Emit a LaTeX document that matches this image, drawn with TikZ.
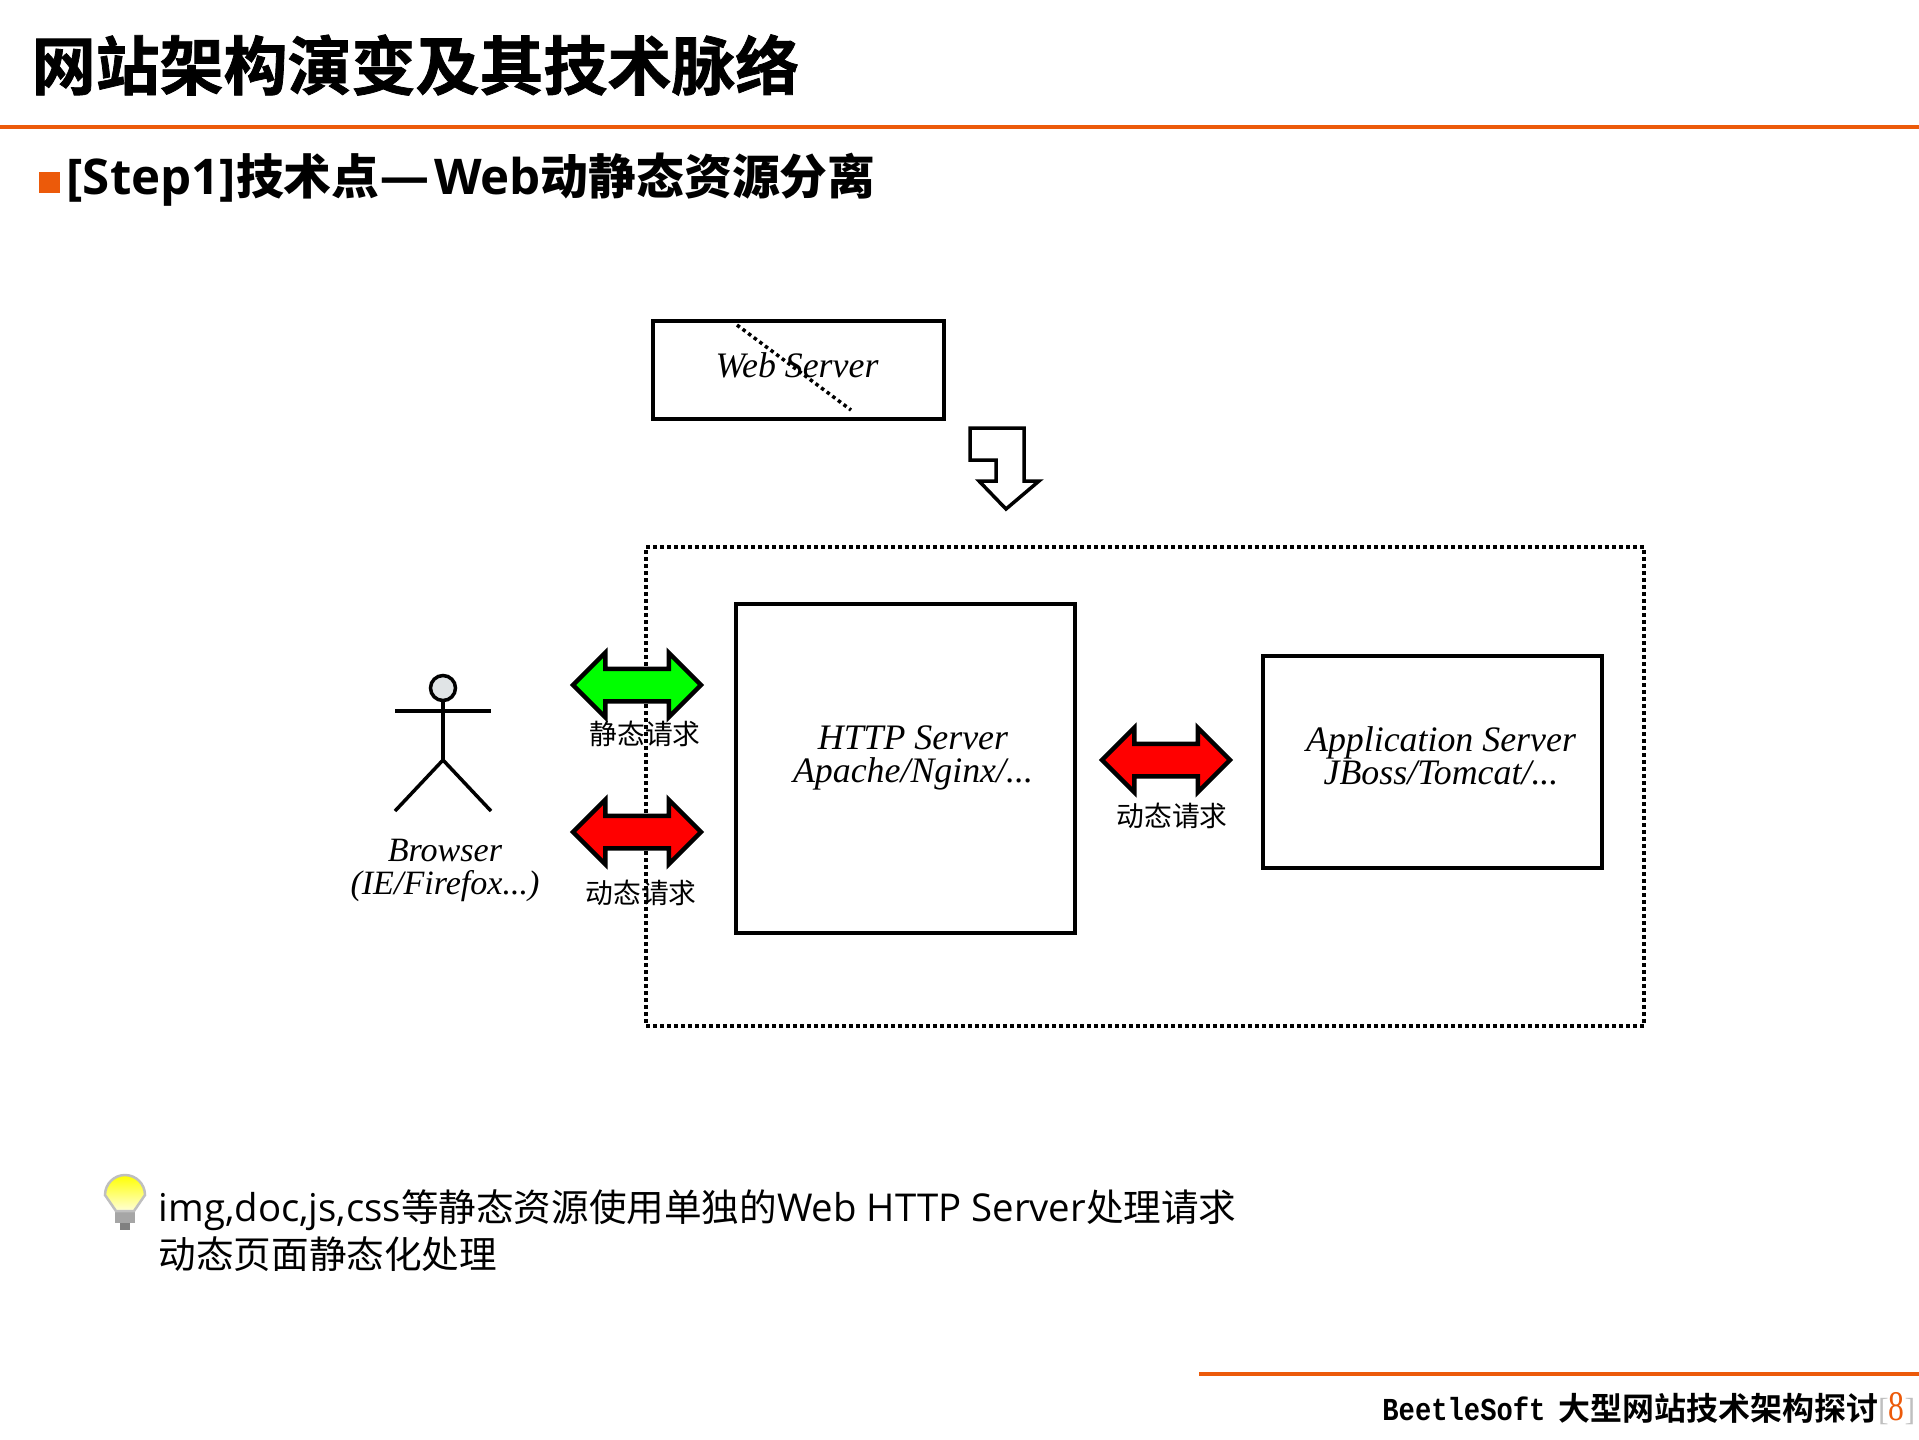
\documentclass[tikz,border=0pt]{standalone}
\usepackage{fontspec}
\usepackage{xcolor}
\usetikzlibrary{arrows.meta, positioning, calc, shapes.arrows}
\setmainfont{Liberation Serif}
\newfontfamily\cjk{Noto Sans CJK SC}
\newfontfamily\cjkb{Noto Sans CJK SC Bold}
\newfontfamily\cjkt{Noto Sans CJK SC Bold}[FakeBold=1.2]
\newfontfamily\latn{Open Sans}[Scale=1.02]
\newfontfamily\latb{Open Sans}[Scale=1.03]
\newfontfamily\monob{Liberation Mono Bold}[FakeStretch=0.85]
\definecolor{slideorange}{RGB}{236,90,10}

\begin{document}
\begin{tikzpicture}[
  x=1cm, y=-1cm,
  plain text/.style = {inner sep=0pt, font=\fontsize{10.7}{13}\selectfont},
  server box/.style = {draw, line width=0.04cm, inner sep=0pt},
  server text/.style = {inner sep=0pt, align=center, font=\fontsize{10.2}{9.4}\selectfont\itshape},
  request text/.style = {inner sep=0pt, font=\fontsize{7.9}{9}\selectfont\cjk},
  both arrow/.style = {draw, line width=0.045cm, double arrow, shape border rotate=0,
    double arrow head extend=0.16cm, double arrow tip angle=90, minimum height=1.28cm,
    inner xsep=0pt, inner ysep=0.14cm},
  dot line/.style = {dash pattern=on 0.035cm off 0.035cm, line width=0.035cm},
  stick/.style = {line width=0.035cm}
]
  \useasboundingbox (0,0) rectangle (19.19,14.39);

  % header
  \node[plain text, anchor=west, font=\fontsize{18.2}{20}\selectfont\cjkt] (title) at (0.31,0.65) {网站架构演变及其技术脉络};
  \draw[slideorange, line width=0.04cm] (0,1.27) -- (19.19,1.27);
  \fill[slideorange] (0.39,1.72) rectangle (0.60,1.93);
  \node[plain text, anchor=west, font=\fontsize{13.6}{15}\selectfont] (subtitle) at (0.66,1.80)
    {\latb\bfseries [Step1]\cjkb 技术点\scalebox{1.16}[1]{—}\kern0.08em\latb\bfseries Web\cjkb 动静态资源分离};

  % outer dotted frame
  \node[draw, dot line, inner sep=0pt, minimum width=9.98cm, minimum height=4.79cm] (frontend) at (11.45,7.865) {};

  % old server
  \node[server box, minimum width=2.91cm, minimum height=0.98cm] (webbox) at (7.985,3.70) {};
  \node[server text] (webtext) at (7.97,3.65) {Web Server};
  \coordinate (crossa) at (7.37,3.25);
  \coordinate (crossb) at (8.51,4.10);
  \draw[dot line] (crossa) -- (crossb);

  % bent arrow
  \draw[line width=0.035cm, fill=white] (9.70,4.28) -- (10.24,4.28) -- (10.24,4.81) -- (10.39,4.81)
    -- (10.06,5.09) -- (9.79,4.81) -- (9.96,4.81) -- (9.96,4.60) -- (9.70,4.60) -- cycle;

  % servers
  \node[server box, minimum width=3.39cm, minimum height=3.29cm] (httpbox) at (9.05,7.68) {};
  \node[server text] (httptext) at (9.13,7.58) {HTTP Server\\Apache/Nginx/...};
  \node[server box, minimum width=3.39cm, minimum height=2.12cm] (appbox) at (14.325,7.62) {};
  \node[server text] (apptext) at (14.41,7.56) {Application Server\\JBoss/Tomcat/...};

  % browser
  \node[draw, circle, stick, fill=cyan!10!gray!25, minimum size=0.25cm, inner sep=0pt] (head) at (4.43,6.88) {};
  \coordinate (hip) at (4.43,7.60);
  \coordinate (armleft) at (3.95,7.11);
  \coordinate (armright) at (4.91,7.11);
  \coordinate (footleft) at (3.95,8.11);
  \coordinate (footright) at (4.91,8.11);
  \draw[stick] (head) -- (hip);
  \draw[stick] (armleft) -- (armright);
  \draw[stick] (footleft) -- (hip) -- (footright);
  \node[server text, font=\fontsize{9.7}{9.4}\selectfont\itshape] (browsertext) at (4.45,8.70) {Browser\\(IE/Firefox...)};

  % requests
  \node[both arrow, fill=green] (greenarrow) at (6.37,6.85) {};
  \node[both arrow, fill=red] (redarrow) at (6.37,8.32) {};
  \node[both arrow, fill=red] (apparrow) at (11.66,7.60) {};
  \node[request text] (staticlabel) at (6.45,7.34) {静态请求};
  \node[request text] (dynamiclabel) at (6.41,8.93) {动态请求};
  \node[request text] (applabel) at (11.72,8.16) {动态请求};

  % bulb
  \fill[gray!70] (1.15,12.10) rectangle (1.35,12.23);
  \fill[gray] (1.20,12.23) rectangle (1.30,12.30);
  \draw[gray!50, top color=yellow, bottom color=yellow!15, line width=0.025cm]
    (1.05,11.95) arc (180:360:0.20) -- (1.34,12.11) -- (1.16,12.11) -- cycle;

  % notes
  \node[plain text, anchor=west] (noteone) at (1.58,12.10)
    {\latn img,doc,js,css\cjk 等静态资源使用单独的\latn Web HTTP Server\cjk 处理请求};
  \node[plain text, anchor=west, font=\fontsize{10.7}{13}\selectfont\cjk] (notetwo) at (1.58,12.54) {动态页面静态化处理};

  % footer
  \draw[slideorange, line width=0.04cm] (11.99,13.74) -- (19.19,13.74);
  \node[plain text, anchor=east, font=\fontsize{9.1}{11}\selectfont] (footer) at (19.16,14.09)
    {\monob BeetleSoft\kern0.4em\cjkb 大型网站技术架构探讨\rmfamily\color{gray!50}[\color{slideorange}\fontsize{12}{11}\selectfont\scalebox{0.75}[1]{8}\color{gray!50}\fontsize{9.1}{11}\selectfont ]};
\end{tikzpicture}
\end{document}
